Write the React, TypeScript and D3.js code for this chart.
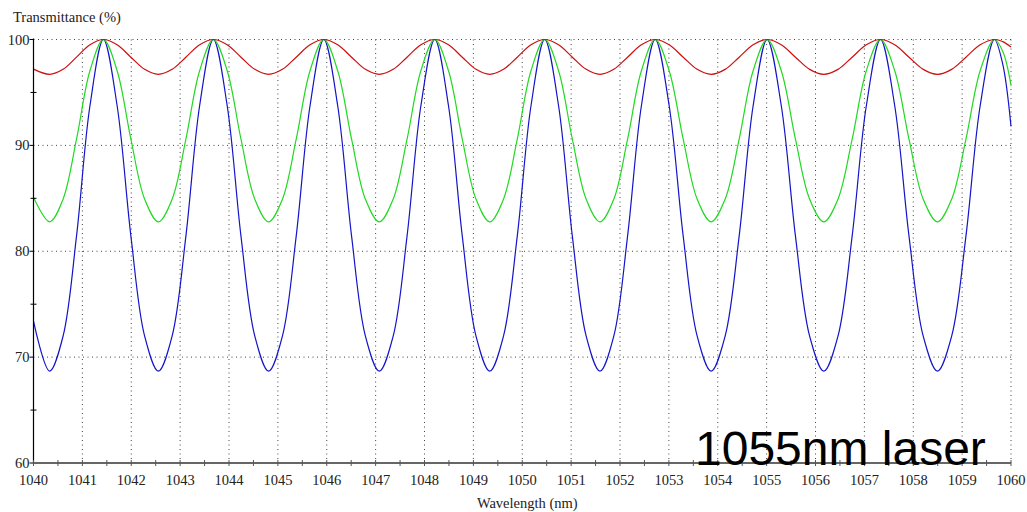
import React from "react";
import * as d3 from "d3";

// Wavelength samples (nm)
const wavelength = [
  1040, 1040.33, 1040.605, 1040.88, 1041.155,
  1041.43, 1041.711, 1041.993, 1042.274, 1042.555, 1042.836, 1043.118, 1043.399,
  1043.68, 1043.963, 1044.245, 1044.528, 1044.81, 1045.093, 1045.375, 1045.658,
  1045.94, 1046.224, 1046.508, 1046.791, 1047.075, 1047.359, 1047.643, 1047.926,
  1048.21, 1048.491, 1048.773, 1049.054, 1049.335, 1049.616, 1049.898, 1050.179,
  1050.46, 1050.743, 1051.025, 1051.308, 1051.59, 1051.873, 1052.155, 1052.438,
  1052.72, 1053.006, 1053.293, 1053.579, 1053.865, 1054.151, 1054.438, 1054.724,
  1055.01, 1055.3, 1055.59, 1055.88, 1056.17, 1056.46, 1056.75, 1057.04,
  1057.33, 1057.621, 1057.913, 1058.204, 1058.495, 1058.786, 1059.078, 1059.369,
  1059.66, 1059.83, 1060,
];

// Transmittance (%) – red (low finesse)
const redSeries = [
  97.2, 96.71, 97.18, 98.33, 99.5,
  100, 99.5, 98.33, 97.18, 96.71, 97.18, 98.33, 99.5,
  100, 99.5, 98.33, 97.18, 96.71, 97.18, 98.33, 99.5,
  100, 99.5, 98.33, 97.18, 96.71, 97.18, 98.33, 99.5,
  100, 99.5, 98.33, 97.18, 96.71, 97.18, 98.33, 99.5,
  100, 99.5, 98.33, 97.18, 96.71, 97.18, 98.33, 99.5,
  100, 99.5, 98.33, 97.18, 96.71, 97.18, 98.33, 99.5,
  100, 99.5, 98.33, 97.18, 96.71, 97.18, 98.33, 99.5,
  100, 99.5, 98.33, 97.18, 96.71, 97.18, 98.33, 99.5,
  100, 99.8, 99.3,
];

// Transmittance (%) – green (medium finesse)
const greenSeries = [
  85.1, 82.78, 84.92, 90.58, 97.05,
  100, 97.05, 90.58, 84.92, 82.78, 84.92, 90.58, 97.05,
  100, 97.05, 90.58, 84.92, 82.78, 84.92, 90.58, 97.05,
  100, 97.05, 90.58, 84.92, 82.78, 84.92, 90.58, 97.05,
  100, 97.05, 90.58, 84.92, 82.78, 84.92, 90.58, 97.05,
  100, 97.05, 90.58, 84.92, 82.78, 84.92, 90.58, 97.05,
  100, 97.05, 90.58, 84.92, 82.78, 84.92, 90.58, 97.05,
  100, 97.05, 90.58, 84.92, 82.78, 84.92, 90.58, 97.05,
  100, 97.05, 90.58, 84.92, 82.78, 84.92, 90.58, 97.05,
  100, 98.9, 95.7,
];

// Transmittance (%) – blue (high finesse)
const blueSeries = [
  73.4, 68.68, 71.98, 81.43, 93.74,
  100, 93.74, 81.43, 71.98, 68.68, 71.98, 81.43, 93.74,
  100, 93.74, 81.43, 71.98, 68.68, 71.98, 81.43, 93.74,
  100, 93.74, 81.43, 71.98, 68.68, 71.98, 81.43, 93.74,
  100, 93.74, 81.43, 71.98, 68.68, 71.98, 81.43, 93.74,
  100, 93.74, 81.43, 71.98, 68.68, 71.98, 81.43, 93.74,
  100, 93.74, 81.43, 71.98, 68.68, 71.98, 81.43, 93.74,
  100, 93.74, 81.43, 71.98, 68.68, 71.98, 81.43, 93.74,
  100, 93.74, 81.43, 71.98, 68.68, 71.98, 81.43, 93.74,
  100, 97.7, 91.8,
];

const xTickValues = [1040, 1041, 1042, 1043, 1044, 1045, 1046, 1047, 1048, 1049, 1050, 1051, 1052, 1053, 1054, 1055, 1056, 1057, 1058, 1059, 1060];
const yTickValues = [60, 70, 80, 90, 100];
const yMinorTicks = [65, 75, 85, 95];

const yTitle = "Transmittance (%)";
const xTitle = "Wavelength (nm)";
const annotation = "1055nm laser";

const W = 1027;
const H = 512;
const left = 33.5;
const right = 1011;
const top = 39.5;
const bottom = 463;

export default function App() {
  const x = d3.scaleLinear().domain([1040, 1060]).range([left, right]);
  const y = d3.scaleLinear().domain([60, 100]).range([bottom, top]);

  const mk = (vals: number[]) =>
    d3
      .line<number>()
      .x((_, i) => x(wavelength[i]))
      .y((v) => y(v))
      .curve(d3.curveCatmullRom.alpha(0.5))(vals) || "";

  const xMinor = d3.range(1040, 1060.001, 0.5);
  const font = "'Liberation Serif', 'Times New Roman', serif";

  return (
    <svg
      width={W}
      height={H}
      style={{ position: "absolute", left: 0, top: 0, background: "#fff" }}
    >
      <defs>
        <clipPath id="plotclip">
          <rect x={left} y={top - 2} width={right - left + 1} height={bottom - top + 2} />
        </clipPath>
      </defs>
      <rect x={0} y={0} width={W} height={H} fill="#fff" />

      {/* grid */}
      <g stroke="#444" strokeWidth={1} strokeDasharray="1,3.5">
        {xTickValues.slice(1).map((t) => (
          <line key={"gx" + t} x1={x(t)} x2={x(t)} y1={top} y2={bottom} />
        ))}
        {yTickValues.slice(1).map((t) => (
          <line key={"gy" + t} x1={left} x2={right} y1={y(t)} y2={y(t)} />
        ))}
      </g>

      {/* curves */}
      <g clipPath="url(#plotclip)" fill="none" strokeWidth={1.2}>
        <path d={mk(blueSeries)} stroke="#1414c8" />
        <path d={mk(greenSeries)} stroke="#22d822" />
        <path d={mk(redSeries)} stroke="#cc1010" />
      </g>

      {/* y axis */}
      <line x1={left} x2={left} y1={top - 1} y2={bottom} stroke="#000" strokeWidth={1.2} />
      {yTickValues.map((t) => (
        <line key={"yt" + t} x1={left - 4} x2={left} y1={y(t)} y2={y(t)} stroke="#000" />
      ))}
      {yMinorTicks.map((t) => (
        <line key={"ym" + t} x1={left - 3} x2={left + 3} y1={y(t)} y2={y(t)} stroke="#000" />
      ))}
      {yTickValues.map((t) => (
        <text
          key={"yl" + t}
          x={left - 4}
          y={y(t) + 5}
          textAnchor="end"
          fontFamily={font}
          fontSize={14.5}
          fill="#222"
        >
          {t}
        </text>
      ))}

      {/* x axis */}
      <line x1={left} x2={right} y1={bottom} y2={bottom} stroke="#666" strokeWidth={2} />
      {xMinor.map((t) => (
        <line key={"xt" + t} x1={x(t)} x2={x(t)} y1={bottom - 3} y2={bottom + 3} stroke="#555" />
      ))}
      {xTickValues.map((t) => (
        <text
          key={"xl" + t}
          x={x(t)}
          y={bottom + 22}
          textAnchor="middle"
          fontFamily={font}
          fontSize={14.5}
          fill="#222"
        >
          {t}
        </text>
      ))}

      <text x={13} y={22} fontFamily={font} fontSize={14.5} fill="#222">
        {yTitle}
      </text>
      <text x={(left + right) / 2 + 5} y={508} textAnchor="middle" fontFamily={font} fontSize={14.5} fill="#222">
        {xTitle}
      </text>

      <text
        x={695}
        y={465}
        fontFamily="'Liberation Sans', Arial, sans-serif"
        fontSize={48}
        fill="#000"
      >
        {annotation}
      </text>
    </svg>
  );
}
